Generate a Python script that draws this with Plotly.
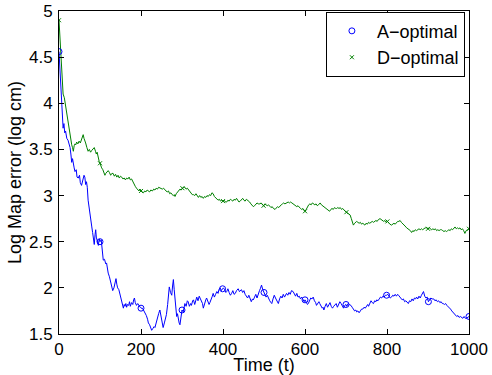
import numpy as np
import plotly.graph_objects as go

# A-optimal (blue) : time, value
a_t = [0,2,4,6,8,10,12,14,16,19,22,25,27,29,31,33,35,37,39,42,44,47,50,52,55,58,61,63,65,67,69,71,73,75,77,80,82,84,86,88,89.5,91,93,96,98,
       100,103,105,108,111,114,116,118,120,123,126,128,131,134,137,139,141,143,146,149,152,155,157,159,161,163,165,167,170,172,174,177,180,182,184,186,189,192,195,198,
       200,203,206,210,213,216,218,221,224,226,229,232,234,237,240,243,246,249,252,254,257,260,262,265,267,269,272,275,277,279,281,283,285,287,289,291,293,295,297,
       300,303,305,307,310,313,315,318,321,323,326,328,331,334,336,339,342,345,348,350,352,355,358,360,363,366,368,371,374,376,379,382,385,388,390,393,396,399,
       401,404,407,409,412,415,418,421,424,427,430,433,435,437,440,443,445,448,451,454,457,460,463,466,469,472,474,477,480,483,486,489,491,494,497,
       500,502,505,508,511,514,517,519,522,525,528,531,533,535,538,541,544,547,550,553,555,558,561,564,567,571,574,577,580,583,586,589,592,595,598,
       600,603,606,608,611,614,617,620,623,626,628,631,634,636,639,642,644,646,649,652,655,658,661,664,667,670,673,676,679,682,685,688,691,694,697,
       700,702,705,708,712,715,718,721,724,726,729,732,735,738,741,744,747,750,753,755,758,761,764,767,770,773,775,778,781,784,787,790,793,796,799,
       802,805,808,811,814,817,820,823,826,828,831,834,837,840,843,846,849,852,855,858,861,864,867,870,872,875,878,881,884,887,889,892,895,898,
       901,904,907,910,914,917,920,923,926,929,932,935,937,940,943,946,949,952,955,958,960,962,965,968,970,973,976,979,982,985,988,991,994,997,1000]
a_v = [4.56,4.40,4.15,3.98,3.85,3.73,3.78,3.68,3.70,3.62,3.60,3.55,3.52,3.45,3.36,3.40,3.33,3.30,3.26,3.28,3.20,3.19,3.22,3.14,3.11,3.16,3.22,3.20,3.12,3.15,3.09,2.95,2.88,2.78,2.74,2.66,2.60,2.54,2.47,2.58,2.63,2.55,2.50,2.46,2.53,
       2.50,2.52,2.40,2.30,2.31,2.26,2.27,2.20,2.16,2.12,2.05,2.01,1.97,2.00,2.08,2.10,2.04,2.00,1.98,1.92,1.88,1.83,1.78,1.82,1.80,1.83,1.79,1.82,1.81,1.85,1.80,1.84,1.82,1.87,1.89,1.84,1.81,1.83,1.80,1.79,
       1.78,1.78,1.76,1.73,1.70,1.66,1.62,1.60,1.57,1.54,1.56,1.58,1.57,1.63,1.68,1.72,1.76,1.68,1.62,1.57,1.62,1.68,1.71,1.82,1.93,2.01,1.95,1.92,2.02,2.09,1.98,1.87,1.78,1.69,1.72,1.66,1.62,1.60,1.70,
       1.76,1.74,1.80,1.83,1.80,1.86,1.85,1.80,1.83,1.81,1.86,1.87,1.82,1.88,1.90,1.86,1.91,1.88,1.85,1.83,1.78,1.84,1.87,1.89,1.85,1.82,1.84,1.89,1.91,1.94,1.90,1.93,1.96,1.94,1.98,2.00,1.97,1.99,
       2.00,1.98,1.95,1.96,1.99,1.95,1.92,1.94,1.97,1.93,1.94,1.97,1.99,1.99,1.96,1.98,1.98,1.95,1.97,1.93,1.91,1.89,1.92,1.87,1.85,1.88,1.87,1.90,1.93,1.89,1.94,1.97,1.99,2.03,1.98,
       1.95,1.94,1.90,1.92,1.88,1.86,1.84,1.83,1.88,1.92,1.89,1.86,1.84,1.83,1.88,1.91,1.89,1.93,1.90,1.92,1.94,1.92,1.95,1.93,1.97,1.96,1.93,1.91,1.94,1.90,1.91,1.88,1.90,1.87,1.85,
       1.87,1.84,1.82,1.83,1.86,1.89,1.88,1.90,1.86,1.84,1.81,1.83,1.85,1.83,1.80,1.78,1.79,1.76,1.80,1.83,1.79,1.81,1.84,1.80,1.78,1.80,1.81,1.83,1.79,1.82,1.85,1.83,1.80,1.78,1.81,
       1.82,1.80,1.83,1.82,1.81,1.79,1.77,1.75,1.76,1.74,1.75,1.73,1.75,1.77,1.77,1.79,1.78,1.80,1.82,1.80,1.83,1.86,1.84,1.83,1.86,1.85,1.87,1.86,1.88,1.90,1.89,1.91,1.90,1.92,1.92,
       1.93,1.91,1.89,1.90,1.92,1.91,1.93,1.91,1.93,1.92,1.90,1.89,1.87,1.88,1.85,1.86,1.84,1.83,1.86,1.85,1.88,1.86,1.89,1.88,1.90,1.88,1.91,1.89,1.92,1.94,1.96,1.91,1.89,1.90,
       1.85,1.87,1.89,1.88,1.88,1.86,1.87,1.85,1.86,1.84,1.85,1.83,1.83,1.82,1.83,1.81,1.80,1.78,1.77,1.75,1.74,1.73,1.71,1.70,1.69,1.70,1.68,1.69,1.68,1.67,1.69,1.67,1.67,1.68,1.69]

# D-optimal (green) : time, value
d_t = [0,2,5,7,8,10,13,15,17,19,21,23,25,27,29,31,33,35,37,39,41,43,46,49,52,55,57,59,61,63,65,68,71,74,77,80,83,86,89,91,93,95,98,
       100,102,104,107,110,112,114,117,120,123,126,129,132,135,138,141,144,147,150,153,156,159,162,165,168,171,174,177,180,183,186,189,192,195,198,
       200,203,206,209,212,215,218,221,224,228,231,234,237,240,243,246,249,252,255,258,261,264,267,270,273,276,279,281,283,286,289,292,295,298,
       301,304,307,310,313,316,319,322,325,328,331,334,337,340,343,346,349,352,355,358,361,364,367,370,373,376,379,382,385,388,391,394,397,
       400,403,406,409,412,415,418,421,424,427,430,433,436,439,442,445,448,451,454,457,460,462,465,468,471,474,477,480,483,486,490,493,496,499,
       502,505,508,511,514,517,520,523,527,530,533,536,539,542,545,548,551,554,557,559,562,565,568,571,574,577,580,583,586,589,592,595,598,
       600,603,606,609,612,615,618,621,624,627,630,633,637,640,643,646,649,652,655,657,660,663,666,669,672,675,677,680,683,686,689,692,695,698,
       701,704,707,710,713,716,718,721,724,726,729,732,735,738,741,744,746,749,752,755,758,761,764,767,770,773,776,779,783,786,789,792,795,798,
       801,804,807,811,814,817,820,823,826,829,832,835,838,841,844,848,851,854,857,860,863,866,869,872,875,878,881,884,887,890,893,897,
       900,903,906,909,912,915,918,921,924,927,930,933,936,939,942,945,948,951,954,957,960,963,966,969,972,975,978,981,984,987,990,993,996,1000]
d_v = [4.90,4.71,4.52,4.30,4.16,4.10,4.06,4.00,3.95,3.91,3.86,3.80,3.75,3.69,3.62,3.55,3.52,3.48,3.54,3.56,3.55,3.58,3.56,3.59,3.57,3.61,3.64,3.66,3.62,3.60,3.57,3.52,3.48,3.50,3.47,3.49,3.51,3.52,3.48,3.45,3.47,3.41,3.37,
       3.35,3.32,3.30,3.28,3.24,3.22,3.24,3.26,3.27,3.25,3.22,3.24,3.24,3.21,3.23,3.20,3.22,3.19,3.21,3.20,3.18,3.19,3.17,3.19,3.18,3.20,3.17,3.18,3.15,3.12,3.10,3.08,3.06,3.05,3.07,
       3.05,3.04,3.03,3.05,3.04,3.06,3.05,3.04,3.06,3.05,3.07,3.06,3.08,3.07,3.09,3.08,3.08,3.07,3.08,3.06,3.05,3.04,3.05,3.02,3.03,3.01,3.00,3.01,2.99,3.02,3.04,3.05,3.07,3.06,
       3.08,3.09,3.09,3.07,3.08,3.06,3.04,3.03,3.01,3.01,3.00,3.02,2.99,2.98,3.00,2.98,2.99,2.97,2.99,2.98,3.00,2.99,3.01,3.00,3.03,3.02,2.99,2.98,2.97,2.95,2.96,2.94,2.95,
       2.94,2.95,2.93,2.93,2.95,2.94,2.96,2.95,2.94,2.96,2.95,2.97,2.95,2.93,2.94,2.95,2.97,2.95,2.94,2.96,2.95,2.95,2.93,2.91,2.89,2.88,2.89,2.90,2.92,2.91,2.91,2.92,2.90,2.89,
       2.91,2.90,2.89,2.90,2.88,2.87,2.88,2.86,2.85,2.86,2.88,2.87,2.89,2.90,2.91,2.92,2.91,2.92,2.93,2.93,2.92,2.93,2.92,2.91,2.90,2.89,2.88,2.89,2.87,2.86,2.85,2.86,2.84,
       2.83,2.85,2.88,2.90,2.91,2.90,2.92,2.91,2.90,2.91,2.89,2.90,2.92,2.90,2.89,2.88,2.87,2.86,2.85,2.84,2.83,2.85,2.86,2.85,2.87,2.86,2.86,2.87,2.86,2.87,2.85,2.86,2.84,2.83,
       2.82,2.81,2.80,2.79,2.75,2.71,2.68,2.70,2.71,2.72,2.71,2.70,2.71,2.69,2.70,2.69,2.68,2.70,2.69,2.71,2.70,2.71,2.72,2.71,2.72,2.73,2.72,2.74,2.75,2.74,2.73,2.72,2.73,2.71,
       2.72,2.70,2.69,2.68,2.69,2.70,2.69,2.71,2.72,2.72,2.73,2.71,2.70,2.68,2.67,2.65,2.64,2.63,2.62,2.60,2.62,2.61,2.63,2.62,2.63,2.64,2.63,2.64,2.63,2.64,2.65,2.65,
       2.64,2.65,2.64,2.63,2.64,2.63,2.64,2.62,2.63,2.62,2.63,2.63,2.62,2.61,2.62,2.61,2.62,2.63,2.62,2.64,2.63,2.65,2.66,2.64,2.65,2.64,2.65,2.63,2.64,2.62,2.59,2.62,2.63,2.64]

marker_times = [0, 100, 200, 300, 400, 500, 600, 700, 800, 900, 1000]

x_ticks = [0, 200, 400, 600, 800, 1000]
y_ticks = [1.5, 2, 2.5, 3, 3.5, 4, 4.5, 5]

BLUE = "#0000FF"
GREEN = "#008000"
FONT = "Liberation Sans, Arial, Helvetica, sans-serif"

def pick(ts, vs, times):
    ts = np.asarray(ts, float)
    vs = np.asarray(vs, float)
    idx = [int(np.argmin(np.abs(ts - t))) for t in times]
    return ts[idx], vs[idx]

fig = go.Figure()
fig.add_trace(go.Scatter(x=a_t, y=a_v, mode="lines", line=dict(color=BLUE, width=1),
                         showlegend=False, hoverinfo="skip"))
fig.add_trace(go.Scatter(x=d_t, y=d_v, mode="lines", line=dict(color=GREEN, width=1),
                         showlegend=False, hoverinfo="skip"))
am_t, am_v = pick(a_t, a_v, marker_times)
dm_t, dm_v = pick(d_t, d_v, marker_times)
fig.add_trace(go.Scatter(x=am_t, y=am_v, mode="markers", name="A\u2212optimal",
                         marker=dict(symbol="circle-open", size=6, color=BLUE, line=dict(width=1, color=BLUE))))
fig.add_trace(go.Scatter(x=dm_t, y=dm_v, mode="markers", name="D\u2212optimal",
                         marker=dict(symbol="x-thin-open", size=4, color=GREEN, line=dict(width=1, color=GREEN))))

axis_common = dict(showgrid=False, zeroline=False, showline=True, linecolor="black", linewidth=1,
                   mirror="ticks", ticks="inside", ticklen=5, tickwidth=1, tickcolor="black",
                   automargin=False,
                   tickfont=dict(family=FONT, size=17, color="black"))

fig.update_layout(
    width=492, height=375,
    margin=dict(l=59, r=23, t=11, b=41),
    paper_bgcolor="white", plot_bgcolor="white",
    font=dict(family=FONT, size=17, color="black"),
    xaxis=dict(range=[0, 1000], tickvals=x_ticks, ticktext=[str(v) for v in x_ticks],
               title=dict(text="Time (t)", font=dict(family=FONT, size=18), standoff=0), **axis_common),
    yaxis=dict(range=[1.5, 5], tickvals=y_ticks, ticktext=[f"{v:g}" for v in y_ticks],
               title=dict(text="Log Map error (log cm)", font=dict(family=FONT, size=18), standoff=2),
               ticklabelstandoff=2, **axis_common),
    legend=dict(x=0.99, y=0.998, xanchor="right", yanchor="top", bgcolor="white",
                bordercolor="black", borderwidth=1, font=dict(family=FONT, size=18),
                tracegroupgap=0, itemwidth=40),
    showlegend=True,
)

fig.write_html("out.html", config={"displayModeBar": False},
               post_script="document.body.style.margin='0';document.body.style.padding='0';")
